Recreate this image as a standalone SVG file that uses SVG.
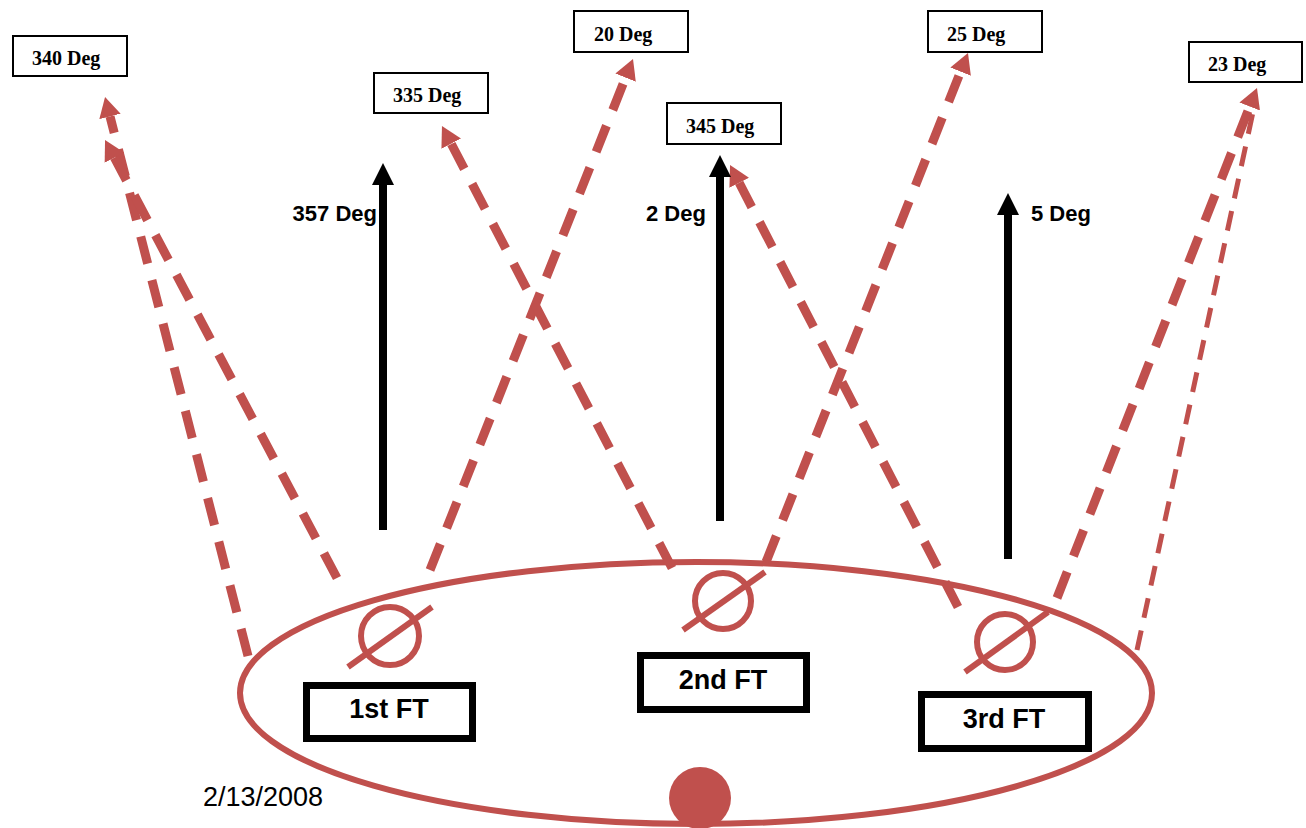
<svg xmlns="http://www.w3.org/2000/svg" width="1306" height="828" viewBox="0 0 1306 828">
<style>
.red{stroke:#C0504D;fill:none}
.dash{stroke:#C0504D;stroke-width:9;stroke-dasharray:28 17;fill:none}
.thin{stroke:#C0504D;stroke-width:5;stroke-dasharray:20 13;fill:none}
.blk{stroke:#000;stroke-width:8;fill:none}
.lbl{fill:#fff;stroke:#000;stroke-width:2}
.ftbox{fill:#fff;stroke:#000;stroke-width:7}
.deg{font-family:"Liberation Serif","Times New Roman",serif;font-weight:bold;font-size:20px;fill:#000}
.bdeg{font-family:"Liberation Sans",Arial,sans-serif;font-weight:bold;font-size:22px;fill:#000}
.ft{font-family:"Liberation Sans",Arial,sans-serif;font-weight:bold;font-size:27px;fill:#000;text-anchor:middle}
.date{font-family:"Liberation Sans",Arial,sans-serif;font-size:27px;fill:#000}
</style>
<defs>
<marker id="ra" markerUnits="userSpaceOnUse" markerWidth="24" markerHeight="24" refX="0" refY="12" orient="auto" viewBox="0 0 24 24">
<path d="M0,1 L20,12 L0,23 z" fill="#C0504D"/>
</marker>
<marker id="ba" markerUnits="userSpaceOnUse" markerWidth="24" markerHeight="24" refX="0" refY="12" orient="auto" viewBox="0 0 24 24">
<path d="M0,1 L22,12 L0,23 z" fill="#000"/>
</marker>
</defs>
<rect width="1306" height="828" fill="#fff"/>

<g id="ellipse">
<ellipse cx="696" cy="693" rx="456" ry="131" class="red" stroke-width="6"/>
<circle cx="700" cy="798" r="31" fill="#C0504D"/>
</g>

<g id="connectors">
<line x1="248" y1="656" x2="110" y2="116.4" class="dash" marker-end="url(#ra)"/>
<line x1="337" y1="578" x2="114.4" y2="157.7" class="dash" marker-end="url(#ra)"/>
<line x1="430" y1="570" x2="625.6" y2="77.6" class="dash" marker-end="url(#ra)"/>
<line x1="672" y1="568" x2="451.2" y2="143.7" class="dash" marker-end="url(#ra)"/>
<line x1="766" y1="562" x2="960.6" y2="71.6" class="dash" marker-end="url(#ra)"/>
<line x1="958" y1="607" x2="739.2" y2="182.8" class="dash" marker-end="url(#ra)"/>
<line x1="1057" y1="598" x2="1249.7" y2="106.6" class="dash" marker-end="url(#ra)"/>
<line x1="1137" y1="650" x2="1253" y2="112" class="thin"/>
<line x1="383" y1="530" x2="383" y2="185" class="blk" marker-end="url(#ba)"/>
<line x1="720" y1="521" x2="720" y2="177" class="blk" marker-end="url(#ba)"/>
<line x1="1008" y1="559" x2="1008" y2="215" class="blk" marker-end="url(#ba)"/>
</g>

<g id="ft1">
<circle cx="390" cy="636" r="29" class="red" stroke-width="6"/>
<line x1="348" y1="667" x2="432" y2="607" class="red" stroke-width="6"/>
<rect x="306.5" y="685.5" width="166" height="53" class="ftbox"/>
<text x="389" y="718" class="ft">1st FT</text>
</g>
<g id="ft2">
<circle cx="723" cy="601" r="28" class="red" stroke-width="6"/>
<line x1="683" y1="630" x2="765" y2="572" class="red" stroke-width="6"/>
<rect x="640.5" y="655.5" width="166" height="54" class="ftbox"/>
<text x="723" y="689" class="ft">2nd FT</text>
</g>
<g id="ft3">
<circle cx="1005" cy="642" r="28" class="red" stroke-width="6"/>
<line x1="965" y1="672" x2="1048" y2="612" class="red" stroke-width="6"/>
<rect x="921.5" y="694.5" width="167" height="54" class="ftbox"/>
<text x="1004" y="728" class="ft">3rd FT</text>
</g>

<g id="lbl340"><rect x="13" y="36" width="114" height="40" class="lbl"/><text x="32" y="65" class="deg">340 Deg</text></g>
<g id="lbl335"><rect x="374" y="73" width="114" height="40" class="lbl"/><text x="393" y="102" class="deg">335 Deg</text></g>
<g id="lbl20"><rect x="574" y="11" width="114" height="41" class="lbl"/><text x="594" y="41" class="deg">20 Deg</text></g>
<g id="lbl345"><rect x="667" y="103" width="114" height="41" class="lbl"/><text x="686" y="133" class="deg">345 Deg</text></g>
<g id="lbl25"><rect x="928" y="11" width="114" height="41" class="lbl"/><text x="947" y="41" class="deg">25 Deg</text></g>
<g id="lbl23"><rect x="1189" y="42" width="113" height="40" class="lbl"/><text x="1208" y="71" class="deg">23 Deg</text></g>

<g id="lbl357"><text x="377" y="221" class="bdeg" text-anchor="end">357 Deg</text></g>
<g id="lbl2"><text x="646" y="221" class="bdeg">2 Deg</text></g>
<g id="lbl5"><text x="1031" y="221" class="bdeg">5 Deg</text></g>

<g id="date"><text x="203" y="806" class="date">2/13/2008</text></g>
</svg>
